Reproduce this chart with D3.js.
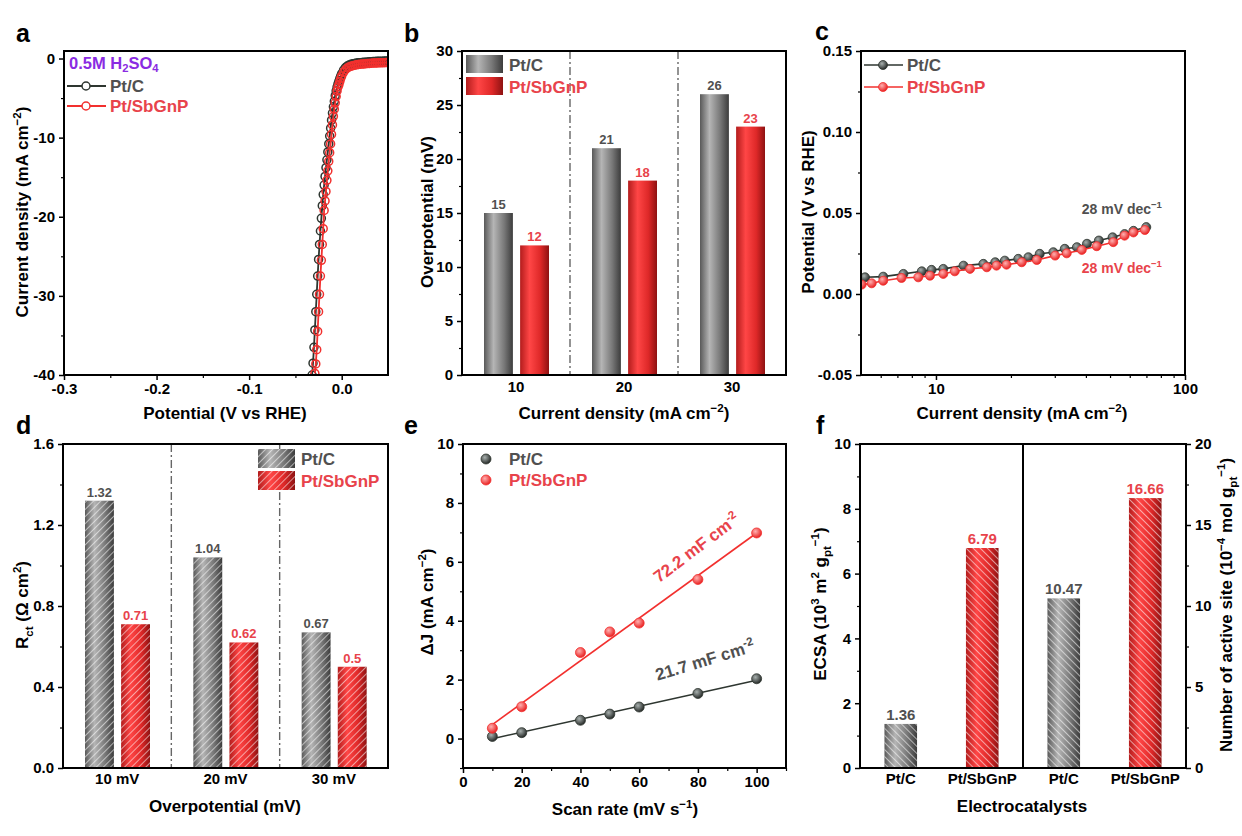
<!DOCTYPE html>
<html><head><meta charset="utf-8">
<script src="https://cdn.jsdelivr.net/npm/d3@7"></script>
<style>body{margin:0;background:#fff}</style>
</head><body><script>
// ---------------- DATA ----------------
// (a) LSV
const aPotential = [0.050,0.048,0.046,0.044,0.042,0.040,0.038,0.036,0.034,0.032,0.030,0.028,0.026,0.024,0.022,0.020,0.018,0.016,0.014,0.012,0.010,0.008,0.006,0.004,0.002,0.000,
  -0.001,-0.002,-0.003,-0.004,-0.005,-0.006,-0.007,-0.008,-0.009,-0.010,-0.011,-0.012,-0.013,-0.014,-0.015,-0.016,-0.017,-0.018,-0.019,-0.020,-0.021,-0.022,-0.023,-0.024,-0.025,-0.026,-0.027,-0.028,-0.029,-0.030,-0.031,-0.032];
const aPtC = [-0.30,-0.31,-0.32,-0.33,-0.34,-0.35,-0.36,-0.37,-0.38,-0.40,-0.42,-0.44,-0.46,-0.48,-0.50,-0.52,-0.55,-0.58,-0.62,-0.67,-0.73,-0.82,-0.95,-1.15,-1.45,-1.9,
  -2.2,-2.5,-2.85,-3.2,-3.6,-4.1,-4.7,-5.4,-6.1,-6.9,-7.8,-8.8,-9.8,-10.8,-11.8,-12.8,-13.8,-14.9,-16.0,-17.2,-18.6,-20.2,-21.8,-23.5,-25.4,-27.5,-29.8,-32.0,-34.3,-36.5,-38.5,-40.0];
const aPtSbGnP = [-0.50,-0.51,-0.52,-0.53,-0.54,-0.55,-0.56,-0.57,-0.58,-0.60,-0.62,-0.64,-0.66,-0.68,-0.70,-0.72,-0.75,-0.79,-0.84,-0.90,-0.97,-1.06,-1.2,-1.42,-1.75,-2.2,
  -2.5,-2.9,-3.3,-3.6,-4.1,-4.8,-5.6,-6.4,-7.3,-8.4,-9.6,-10.8,-11.9,-13.0,-14.2,-15.4,-16.8,-18.0,-19.2,-21.5,-23.5,-25.5,-27.5,-29.8,-32.0,-34.5,-36.8,-38.6,-39.8];
const aXTicks = [-0.3,-0.2,-0.1,0.0], aXLabels = ["-0.3","-0.2","-0.1","0.0"];
const aYTicks = [0,-10,-20,-30,-40], aYLabels = ["0","-10","-20","-30","-40"];
// (b) overpotential
const bCats = ["10","20","30"];
const bPtC = [15,21,26];
const bPtSbGnP = [12,18,23];
const bYTicks = [0,5,10,15,20,25,30];
// (c) Tafel
const cPtCx = [5.19,6.14,7.4,8.77,9.6,10.7,12.9,15.5,17.3,18.9,21.4,23.5,26.1,29.6,32.9,36.8,40.4,45.1,51.2,57.2,62.1,69.9];
const cPtCy = [0.0103,0.0107,0.0124,0.014,0.0149,0.0155,0.0175,0.0186,0.0196,0.0206,0.0217,0.0227,0.0248,0.0258,0.0279,0.0289,0.031,0.033,0.035,0.037,0.039,0.0413];
const cSbx = [5.03,5.52,6.14,7.27,8.49,9.46,10.7,11.9,13.7,16.0,17.5,19.2,22.1,25.4,30.1,33.5,38.5,44.2,51.5,57.2,62.1,69.0];
const cSby = [0.0058,0.0066,0.0082,0.0099,0.0103,0.0113,0.0124,0.014,0.0155,0.0165,0.0175,0.0181,0.0196,0.021,0.0237,0.0251,0.0272,0.0295,0.032,0.036,0.038,0.0395];
const cYTicks = [-0.05,0,0.05,0.10,0.15], cYLabels = ["-0.05","0.00","0.05","0.10","0.15"];
// (d) Rct
const dCats = ["10 mV","20 mV","30 mV"];
const dPtC = [1.32,1.04,0.67];
const dPtSbGnP = [0.71,0.62,0.5];
const dPtCLabels = ["1.32","1.04","0.67"], dSbLabels = ["0.71","0.62","0.5"];
const dYTicks = [0,0.4,0.8,1.2,1.6], dYLabels = ["0.0","0.4","0.8","1.2","1.6"];
// (e) Cdl
const eScan = [10,20,40,50,60,80,100];
const ePtC = [0.07,0.2,0.62,0.83,1.07,1.53,2.03];
const ePtSbGnP = [0.35,1.08,2.92,3.62,3.92,5.4,6.98];
// (f) ECSA / active sites
const fLabels = ["Pt/C","Pt/SbGnP","Pt/C","Pt/SbGnP"];
const fECSA = [1.36,6.79];
const fSites = [10.47,16.66];
const fECSALabels = ["1.36","6.79"], fSitesLabels = ["10.47","16.66"];

// ---------------- STYLE ----------------
const FONT = '"Liberation Sans", Arial, Helvetica, sans-serif';
const GREY_T = '#505050', RED_T = '#e8434b', RED_L = '#f2302e', DARK_L = '#2e3630';

const svg = d3.select('body').append('svg').attr('width',1242).attr('height',836)
  .style('font-family',FONT);
const defs = svg.append('defs');
function grad(id, stops){
  const g = defs.append('linearGradient').attr('id',id).attr('x1',0).attr('x2',1).attr('y1',0).attr('y2',0);
  stops.forEach(([o,c])=>g.append('stop').attr('offset',o).attr('stop-color',c));
}
grad('gGrey',[[0,'#595959'],[0.33,'#b5b5b5'],[0.7,'#787878'],[1,'#3c3c3c']]);
grad('gRed',[[0,'#b31c1c'],[0.33,'#ff4646'],[0.7,'#de2828'],[1,'#8e1212']]);
function hatch(id, angle){
  const p = defs.append('pattern').attr('id',id).attr('patternUnits','userSpaceOnUse')
    .attr('width',5).attr('height',5).attr('patternTransform',`rotate(${angle})`);
  p.append('line').attr('x1',0).attr('y1',0).attr('x2',0).attr('y2',5).attr('stroke','#fff').attr('stroke-width',1.1);
}
hatch('hD',45); hatch('hF',-45);
function radial(id,c0,c1){
  const g = defs.append('radialGradient').attr('id',id).attr('cx','38%').attr('cy','35%').attr('r','65%');
  g.append('stop').attr('offset',0).attr('stop-color',c0);
  g.append('stop').attr('offset',1).attr('stop-color',c1);
}
radial('sGrey','#a8b0ae','#262a28'); radial('sRed','#ffb0b0','#e82222');

function clip(id,P){
  defs.append('clipPath').attr('id',id).append('rect').attr('x',P.l).attr('y',P.t).attr('width',P.r-P.l).attr('height',P.b-P.t);
}
function rich(t, parts, subShift){
  const fs = +t.attr('font-size'); let cur = 0;
  parts.forEach(p=>{
    const [s,m] = typeof p==='string' ? [p,''] : p;
    const target = m==='sup' ? -0.4 : m==='sub' ? (subShift||0.28) : 0;
    const ts = t.append('tspan').text(s);
    const dy = (target-cur)*fs;
    if (dy) ts.attr('dy',dy);
    if (m) ts.attr('font-size',fs*0.68);
    cur = target;
  });
  return t;
}
function txt(x,y,size,fill,anchor){
  return svg.append('text').attr('x',x).attr('y',y).attr('font-size',size).attr('font-weight','bold')
    .attr('fill',fill||'#000').attr('text-anchor',anchor||'start');
}
function ytitle(x,y,parts,size){
  const t = svg.append('text').attr('transform',`translate(${x},${y}) rotate(-90)`).attr('font-size',size||17)
    .attr('font-weight','bold').attr('text-anchor','middle');
  rich(t,parts);
}
function xtitle(x,y,parts,size){
  const t = svg.append('text').attr('x',x).attr('y',y).attr('font-size',size||17)
    .attr('font-weight','bold').attr('text-anchor','middle');
  rich(t,parts);
}
function drawAxis(orient, scale, pos, ticks, labels, minor, opts={}){
  const mk = orient==='left'?d3.axisLeft:orient==='right'?d3.axisRight:d3.axisBottom;
  const tr = orient==='bottom'?`translate(0,${pos})`:`translate(${pos},0)`;
  const gen = mk(scale).tickValues(ticks).tickFormat((d,i)=>labels[i])
    .tickSize(opts.size!==undefined?opts.size:5).tickSizeOuter(0).tickPadding(opts.pad!==undefined?opts.pad:(orient==='bottom'?3:4));
  const g = svg.append('g').attr('transform',tr).call(gen);
  g.attr('font-family',FONT).attr('font-size',opts.fs||15).attr('font-weight','bold');
  g.select('.domain').remove();
  g.selectAll('.tick line').attr('stroke-width',1.5);
  if (minor){
    const m = svg.append('g').attr('transform',tr).call(mk(scale).tickValues(minor).tickFormat('').tickSize(3).tickSizeOuter(0));
    m.select('.domain').remove();
    m.selectAll('.tick line').attr('stroke-width',1.2);
  }
}
function frame(P){
  svg.append('rect').attr('x',P.l).attr('y',P.t).attr('width',P.r-P.l).attr('height',P.b-P.t)
    .attr('fill','none').attr('stroke','#000').attr('stroke-width',2);
}
function letter(x,y,s){ txt(x,y,25,'#000').text(s); }

// ---------------- PANEL A ----------------
{
  const P={l:64,t:51,r:388,b:375};
  const x=d3.scaleLinear([-0.3,0.05],[P.l,P.r]);
  const y=d3.scaleLinear([-40,0.95],[P.b,P.t]);
  clip('ca',P);
  const g=svg.append('g').attr('clip-path','url(#ca)');
  const series=[[aPtC,DARK_L],[aPtSbGnP,RED_L]];
  series.forEach(([vals,col])=>{
    const pts=vals.map((v,i)=>[aPotential[i],v]);
    g.append('path').attr('d',d3.line().x(d=>x(d[0])).y(d=>y(d[1]))(pts)).attr('fill','none').attr('stroke',col).attr('stroke-width',1.8);
    g.selectAll(null).data(pts).join('circle').attr('cx',d=>x(d[0])).attr('cy',d=>y(d[1])).attr('r',4)
      .attr('fill','none').attr('stroke',col).attr('stroke-width',1.5);
  });
  drawAxis('bottom',x,P.b,aXTicks,aXLabels,[-0.25,-0.15,-0.05]);
  drawAxis('left',y,P.l,aYTicks,aYLabels,[-5,-15,-25,-35]);
  frame(P);
  rich(txt(69,69,16.5,'#8a2be2'),['0.5M H',['2','sub'],'SO',['4','sub']],0.2);
  [[DARK_L,GREY_T,'Pt/C',86],[RED_L,RED_T,'Pt/SbGnP',106]].forEach(([lc,tc,s,yy])=>{
    svg.append('line').attr('x1',67).attr('x2',106).attr('y1',yy).attr('y2',yy).attr('stroke',lc).attr('stroke-width',1.8);
    svg.append('circle').attr('cx',86).attr('cy',yy).attr('r',4).attr('fill','#fff').attr('stroke',lc).attr('stroke-width',1.5);
    txt(110,yy+6,17,tc).text(s);
  });
  xtitle(225,419,['Potential (V vs RHE)']);
  ytitle(28,212,['Current density (mA cm',['\u22122','sup'],')']);
  letter(16,42,'a');
}

// ---------------- PANEL B ----------------
{
  const P={l:462,t:51,r:786,b:375};
  const x=d3.scaleBand(bCats,[P.l,P.r]);
  const x1=d3.scaleBand(['Pt/C','Pt/SbGnP'],[22,87]).paddingInner(0.2);
  const y=d3.scaleLinear([0,30],[P.b,P.t]);
  bCats.slice(0,2).forEach(c=>{
    svg.append('line').attr('x1',x(c)+x.bandwidth()).attr('x2',x(c)+x.bandwidth()).attr('y1',P.t).attr('y2',P.b)
      .attr('stroke','#666').attr('stroke-width',1.4).attr('stroke-dasharray','8,3,2,3');
  });
  [[bPtC,'Pt/C','url(#gGrey)',GREY_T],[bPtSbGnP,'Pt/SbGnP','url(#gRed)',RED_T]].forEach(([vals,k,fill,tc])=>{
    bCats.forEach((c,i)=>{
      const bx=x(c)+x1(k);
      svg.append('rect').attr('x',bx).attr('y',y(vals[i])).attr('width',x1.bandwidth()).attr('height',y(0)-y(vals[i])).attr('fill',fill);
      txt(bx+x1.bandwidth()/2,y(vals[i])-4,13,tc,'middle').text(String(vals[i]));
    });
  });
  drawAxis('bottom',x,P.b,bCats,bCats,null,{size:0,pad:6});
  drawAxis('left',y,P.l,bYTicks,bYTicks.map(String),[2.5,7.5,12.5,17.5,22.5,27.5]);
  frame(P);
  [['url(#gGrey)',GREY_T,'Pt/C',55],['url(#gRed)',RED_T,'Pt/SbGnP',77]].forEach(([f,tc,s,yy])=>{
    svg.append('rect').attr('x',466).attr('y',yy).attr('width',37).attr('height',18).attr('fill',f);
    txt(509,yy+16,17,tc).text(s);
  });
  xtitle(624,419,['Current density (mA cm',['\u22122','sup'],')']);
  ytitle(433,212,['Overpotential (mV)']);
  letter(404,42,'b');
}

// ---------------- PANEL C ----------------
{
  const P={l:861,t:51,r:1185,b:375};
  const x=d3.scaleLog([5,100],[P.l,P.r]);
  const y=d3.scaleLinear([-0.05,0.15],[P.b,P.t]);
  clip('cc',P);
  const g=svg.append('g').attr('clip-path','url(#cc)');
  [[cPtCx,cPtCy,DARK_L,'url(#sGrey)'],[cSbx,cSby,RED_L,'url(#sRed)']].forEach(([xs,ys,col,fill])=>{
    const pts=xs.map((v,i)=>[v,ys[i]]);
    g.append('path').attr('d',d3.line().x(d=>x(d[0])).y(d=>y(d[1]))(pts)).attr('fill','none').attr('stroke',col).attr('stroke-width',1.6);
    g.selectAll(null).data(pts).join('circle').attr('cx',d=>x(d[0])).attr('cy',d=>y(d[1])).attr('r',4.5)
      .attr('fill',fill).attr('stroke',col).attr('stroke-width',0.8);
  });
  drawAxis('bottom',x,P.b,[10,100],['10','100'],[6,7,8,9,20,30,40,50,60,70,80,90]);
  drawAxis('left',y,P.l,cYTicks,cYLabels,[-0.025,0.025,0.075,0.125]);
  frame(P);
  [[DARK_L,'url(#sGrey)',GREY_T,'Pt/C',65],[RED_L,'url(#sRed)',RED_T,'Pt/SbGnP',87]].forEach(([lc,f,tc,s,yy])=>{
    svg.append('line').attr('x1',864).attr('x2',903).attr('y1',yy).attr('y2',yy).attr('stroke',lc).attr('stroke-width',1.6);
    svg.append('circle').attr('cx',883).attr('cy',yy).attr('r',4.5).attr('fill',f).attr('stroke',lc).attr('stroke-width',0.8);
    txt(907,yy+6,17,tc).text(s);
  });
  rich(txt(x(38.5),y(0.0495),14,GREY_T),['28 mV dec',['\u22121','sup']]);
  rich(txt(x(38.5),y(0.0132),14,RED_T),['28 mV dec',['\u22121','sup']]);
  xtitle(1022,419,['Current density (mA  cm',['\u22122','sup'],')']);
  ytitle(814,212,['Potential (V vs RHE)']);
  letter(815,40,'c');
}

// ---------------- PANEL D ----------------
{
  const P={l:63,t:444,r:388,b:768};
  const x=d3.scaleBand(dCats,[P.l,P.r]);
  const x1=d3.scaleBand(['Pt/C','Pt/SbGnP'],[22,87]).paddingInner(0.2);
  const y=d3.scaleLinear([0,1.6],[P.b,P.t]);
  dCats.slice(0,2).forEach(c=>{
    svg.append('line').attr('x1',x(c)+x.bandwidth()).attr('x2',x(c)+x.bandwidth()).attr('y1',P.t).attr('y2',P.b)
      .attr('stroke','#666').attr('stroke-width',1.4).attr('stroke-dasharray','8,3,2,3');
  });
  [[dPtC,dPtCLabels,'Pt/C','url(#gGrey)',GREY_T],[dPtSbGnP,dSbLabels,'Pt/SbGnP','url(#gRed)',RED_T]].forEach(([vals,labs,k,fill,tc])=>{
    dCats.forEach((c,i)=>{
      const bx=x(c)+x1(k);
      svg.append('rect').attr('x',bx).attr('y',y(vals[i])).attr('width',x1.bandwidth()).attr('height',y(0)-y(vals[i])).attr('fill',fill);
      svg.append('rect').attr('x',bx).attr('y',y(vals[i])).attr('width',x1.bandwidth()).attr('height',y(0)-y(vals[i])).attr('fill','url(#hD)');
      txt(bx+x1.bandwidth()/2,y(vals[i])-4,13,tc,'middle').text(labs[i]);
    });
  });
  drawAxis('bottom',x,P.b,dCats,dCats,null,{size:0,pad:5});
  drawAxis('left',y,P.l,dYTicks,dYLabels,[0.2,0.6,1.0,1.4]);
  frame(P);
  [['url(#gGrey)',GREY_T,'Pt/C',449],['url(#gRed)',RED_T,'Pt/SbGnP',471]].forEach(([f,tc,s,yy])=>{
    svg.append('rect').attr('x',258).attr('y',yy).attr('width',37).attr('height',19).attr('fill',f);
    svg.append('rect').attr('x',258).attr('y',yy).attr('width',37).attr('height',19).attr('fill','url(#hD)');
    txt(301,yy+16,17,tc).text(s);
  });
  xtitle(225,812,['Overpotential (mV)']);
  ytitle(28,605,['R',['ct','sub'],' (\u03A9 cm',['2','sup'],')']);
  letter(16,434,'d');
}

// ---------------- PANEL E ----------------
{
  const P={l:463,t:444,r:786,b:768};
  const x=d3.scaleLinear([0,110],[P.l,P.r]);
  const y=d3.scaleLinear([-1,10],[P.b,P.t]);
  function fit(xs,ys){
    const mx=d3.mean(xs), my=d3.mean(ys);
    const s=d3.sum(xs,(v,i)=>(v-mx)*(ys[i]-my))/d3.sum(xs,v=>(v-mx)*(v-mx));
    return [s,my-s*mx];
  }
  [[ePtC,DARK_L,'url(#sGrey)'],[ePtSbGnP,RED_L,'url(#sRed)']].forEach(([ys,col,fill])=>{
    const [s,b]=fit(eScan,ys);
    const x0=d3.min(eScan), x1=d3.max(eScan);
    svg.append('line').attr('x1',x(x0)).attr('x2',x(x1)).attr('y1',y(s*x0+b)).attr('y2',y(s*x1+b)).attr('stroke',col).attr('stroke-width',1.6);
    svg.selectAll(null).data(eScan).join('circle').attr('cx',d=>x(d)).attr('cy',(d,i)=>y(ys[i])).attr('r',5)
      .attr('fill',fill).attr('stroke',col).attr('stroke-width',0.8);
  });
  drawAxis('bottom',x,P.b,[0,20,40,60,80,100],['0','20','40','60','80','100'],[10,30,50,70,90,110]);
  drawAxis('left',y,P.l,[0,2,4,6,8,10],['0','2','4','6','8','10'],[-1,1,3,5,7,9]);
  frame(P);
  [['url(#sGrey)',DARK_L,GREY_T,'Pt/C',459],['url(#sRed)',RED_L,RED_T,'Pt/SbGnP',480]].forEach(([f,lc,tc,s,yy])=>{
    svg.append('circle').attr('cx',486).attr('cy',yy).attr('r',5).attr('fill',f).attr('stroke',lc).attr('stroke-width',0.8);
    txt(509,yy+6,17,tc).text(s);
  });
  const t1=svg.append('text').attr('transform',`translate(${x(80.7)},${y(6.32)}) rotate(-37)`).attr('font-size',17)
    .attr('font-weight','bold').attr('fill',RED_T).attr('text-anchor','middle');
  rich(t1,['72.2 mF cm',['-2','sup']]);
  const t2=svg.append('text').attr('transform',`translate(${x(83)},${y(2.47)}) rotate(-17)`).attr('font-size',17)
    .attr('font-weight','bold').attr('fill',GREY_T).attr('text-anchor','middle');
  rich(t2,['21.7 mF cm',['-2','sup']]);
  xtitle(625,815,['Scan rate (mV s',['\u22121','sup'],')']);
  ytitle(433,602,['\u0394J (mA cm',['\u22122','sup'],')']);
  letter(404,434,'e');
}

// ---------------- PANEL F ----------------
{
  const P={l:860,t:444,r:1186,b:768};
  const idx=[0,1,2,3];
  const x=d3.scaleBand(idx,[P.l,P.r]).paddingInner(0.6).paddingOuter(0.3);
  const yL=d3.scaleLinear([0,10],[P.b,P.t]);
  const yR=d3.scaleLinear([0,20],[P.b,P.t]);
  const bars=[
    [0,fECSA[0],yL,'url(#gGrey)',GREY_T,fECSALabels[0]],
    [1,fECSA[1],yL,'url(#gRed)',RED_T,fECSALabels[1]],
    [2,fSites[0],yR,'url(#gGrey)',GREY_T,fSitesLabels[0]],
    [3,fSites[1],yR,'url(#gRed)',RED_T,fSitesLabels[1]]];
  bars.forEach(([i,v,ys,fill,tc,lab])=>{
    svg.append('rect').attr('x',x(i)).attr('y',ys(v)).attr('width',x.bandwidth()).attr('height',ys(0)-ys(v)).attr('fill',fill);
    svg.append('rect').attr('x',x(i)).attr('y',ys(v)).attr('width',x.bandwidth()).attr('height',ys(0)-ys(v)).attr('fill','url(#hF)');
    txt(x(i)+x.bandwidth()/2,ys(v)-4,15,tc,'middle').text(lab);
  });
  const mid=(P.l+P.r)/2;
  svg.append('line').attr('x1',mid).attr('x2',mid).attr('y1',P.t).attr('y2',P.b).attr('stroke','#000').attr('stroke-width',2);
  drawAxis('bottom',x,P.b,idx,fLabels,null,{size:0,pad:5});
  drawAxis('left',yL,P.l,[0,2,4,6,8,10],['0','2','4','6','8','10'],[1,3,5,7,9]);
  drawAxis('right',yR,P.r,[0,5,10,15,20],['0','5','10','15','20'],[2.5,7.5,12.5,17.5]);
  frame(P);
  xtitle(1022,812,['Electrocatalysts']);
  ytitle(826,604,['ECSA (10',['3','sup'],' m',['2','sup'],' g',['pt','sub'],['\u22121','sup'],')']);
  ytitle(1232,605,['Number of active site (10',['\u22124','sup'],' mol g',['pt','sub'],['\u22121','sup'],')']);
  letter(816,434,'f');
}
</script></body></html>
